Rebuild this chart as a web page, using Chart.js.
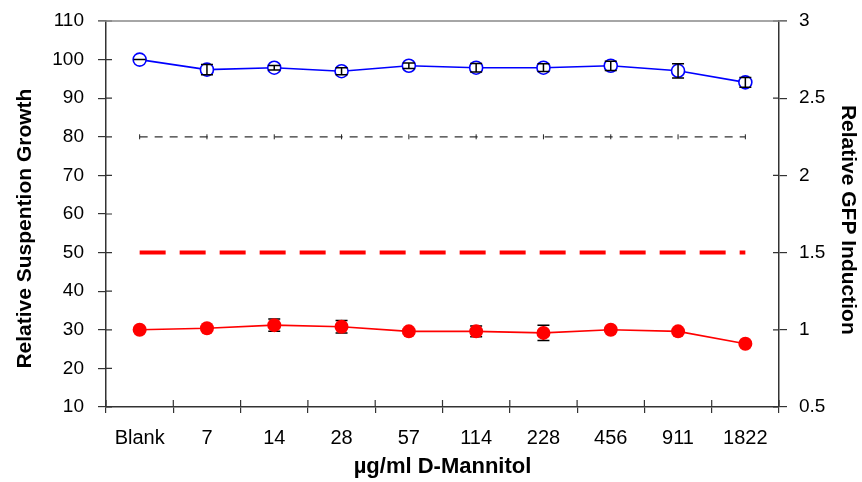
<!DOCTYPE html>
<html>
<head>
<meta charset="utf-8">
<script src="https://cdn.jsdelivr.net/npm/chart.js@4"></script>
<style>
  html, body { margin: 0; padding: 0; background: #fff; }
  #wrap { width: 862px; height: 482px; }
</style>
</head>
<body>
<div id="wrap"><canvas id="grafico" width="862" height="482"></canvas></div>
<script>
const categorias = ['Blank', '7', '14', '28', '57', '114', '228', '456', '911', '1822'];
const crescimento = [100, 97.4, 97.9, 97.0, 98.4, 97.9, 97.9, 98.4, 97.1, 94.1];
const crescimentoErro = [0, 1.3, 0.6, 0.9, 0.7, 1.1, 1.0, 1.2, 1.85, 1.25];
const gfp = [1.0, 1.01, 1.03, 1.02, 0.99, 0.99, 0.98, 1.0, 0.99, 0.91];
const gfpErro = [0, 0.01, 0.04, 0.04, 0.015, 0.035, 0.05, 0.01, 0.012, 0.01];
const limiteCrescimento = [80, 80, 80, 80, 80, 80, 80, 80, 80, 80];
const limiteGfp = [1.5, 1.5, 1.5, 1.5, 1.5, 1.5, 1.5, 1.5, 1.5, 1.5];

const eixoEsq = { min: 10, max: 110, passo: 10 };
const eixoDir = { min: 0.5, max: 3, passo: 0.5 };

const corEixo = '#333';

// error bars, drawn behind or over the markers
const desenharErros = (chart, naFrente) => {
  const ctx = chart.ctx;
  chart.data.datasets.forEach((ds, i) => {
    if (!ds.erros || !!ds.errosNaFrente !== naFrente) return;
    const meta = chart.getDatasetMeta(i);
    const escala = chart.scales[ds.yAxisID];
    ctx.save();
    ctx.strokeStyle = '#000';
    ctx.lineWidth = 1.5;
    meta.data.forEach((pt, j) => {
      const v = ds.data[j];
      const e = ds.erros[j];
      const yAlto = escala.getPixelForValue(v + e);
      const yBaixo = escala.getPixelForValue(v - e);
      ctx.beginPath();
      ctx.moveTo(pt.x, yAlto);
      ctx.lineTo(pt.x, yBaixo);
      ctx.moveTo(pt.x - 6, yAlto);
      ctx.lineTo(pt.x + 6, yAlto);
      ctx.moveTo(pt.x - 6, yBaixo);
      ctx.lineTo(pt.x + 6, yBaixo);
      ctx.stroke();
    });
    ctx.restore();
  });
};

const pluginErros = {
  id: 'erros',
  beforeDatasetsDraw: (chart) => desenharErros(chart, false),
  afterDatasetsDraw: (chart) => desenharErros(chart, true),
};

// inner half of the crossing tick marks and the grey top border
const pluginMolduras = {
  id: 'molduras',
  afterDraw: (chart) => {
    const ctx = chart.ctx;
    const area = chart.chartArea;
    const { y, y1 } = chart.scales;
    ctx.save();
    ctx.strokeStyle = corEixo;
    ctx.lineWidth = 1.2;
    ctx.beginPath();
    y.ticks.forEach((t) => {
      const py = y.getPixelForValue(t.value);
      ctx.moveTo(area.left, py);
      ctx.lineTo(area.left + 6, py);
    });
    y1.ticks.forEach((t) => {
      const py = y1.getPixelForValue(t.value);
      ctx.moveTo(area.right - 6, py);
      ctx.lineTo(area.right, py);
    });
    for (let i = 0; i <= categorias.length; i++) {
      const px = area.left + (i * (area.right - area.left)) / categorias.length;
      ctx.moveTo(px, area.bottom);
      ctx.lineTo(px, area.bottom - 7);
    }
    ctx.stroke();
    ctx.strokeStyle = '#888';
    ctx.lineWidth = 1.5;
    ctx.beginPath();
    ctx.moveTo(area.left - 8, area.top);
    ctx.lineTo(area.right + 8, area.top);
    ctx.stroke();
    ctx.restore();
  },
};

// fixed box sizes so the plot area lands where the reference has it
const ajustarVertical = (largura) => (escala) => {
  escala.width = largura;
  escala.paddingTop = 10;
  escala.paddingBottom = 10;
};

const ctx = document.getElementById('grafico').getContext('2d');

new Chart(ctx, {
  type: 'line',
  data: {
    labels: categorias,
    datasets: [
      {
        label: 'Relative Suspention Growth',
        data: crescimento,
        erros: crescimentoErro,
        errosNaFrente: true,
        yAxisID: 'y',
        borderColor: '#0000ff',
        borderWidth: 1.6,
        pointRadius: 6.5,
        pointBorderWidth: 1.6,
        pointBorderColor: '#0000ff',
        pointBackgroundColor: '#ffffff',
        tension: 0,
      },
      {
        label: 'Relative GFP Induction',
        data: gfp,
        erros: gfpErro,
        yAxisID: 'y1',
        borderColor: '#ff0000',
        borderWidth: 1.6,
        pointRadius: 7,
        pointBorderWidth: 0,
        pointBackgroundColor: '#ff0000',
        tension: 0,
      },
      {
        label: 'limite crescimento',
        data: limiteCrescimento,
        yAxisID: 'y',
        borderColor: '#333',
        borderWidth: 1.2,
        borderDash: [8, 7],
        pointStyle: 'line',
        rotation: 90,
        pointRadius: 2.5,
        pointBorderColor: '#222',
        pointBorderWidth: 1,
      },
      {
        label: 'limite gfp',
        data: limiteGfp,
        yAxisID: 'y1',
        borderColor: '#ff0000',
        borderWidth: 4,
        borderDash: [26, 14],
        pointRadius: 0,
      },
    ],
  },
  options: {
    responsive: false,
    animation: false,
    layout: { padding: { top: 21, left: 0, right: 0, bottom: 0 } },
    plugins: {
      legend: { display: false },
      tooltip: { enabled: false },
    },
    scales: {
      x: {
        offset: true,
        grid: { offset: true, drawOnChartArea: false, tickLength: 6, color: corEixo, lineWidth: 1.2 },
        border: { color: corEixo, width: 1.5 },
        ticks: { color: '#000', padding: 13, font: { family: 'Liberation Sans, Arial', size: 20 } },
        title: {
          display: true,
          text: 'µg/ml D-Mannitol',
          color: '#000',
          padding: { top: 0, bottom: 2 },
          font: { family: 'Liberation Sans, Arial', size: 22, weight: 'bold' },
        },
        afterFit: (escala) => { escala.height = 75; },
      },
      y: {
        position: 'left',
        min: eixoEsq.min,
        max: eixoEsq.max,
        grid: { drawOnChartArea: false, tickLength: 8, color: corEixo, lineWidth: 1.2 },
        border: { color: corEixo, width: 1.5 },
        ticks: {
          stepSize: eixoEsq.passo,
          color: '#000',
          padding: 14,
          font: { family: 'Liberation Sans, Arial', size: 19 },
        },
        title: {
          display: true,
          text: 'Relative Suspention Growth     ',
          color: '#000',
          padding: { top: 13, bottom: 0 },
          font: { family: 'Liberation Sans, Arial', size: 21, weight: 'bold' },
        },
        afterFit: ajustarVertical(106),
      },
      y1: {
        position: 'right',
        min: eixoDir.min,
        max: eixoDir.max,
        grid: { drawOnChartArea: false, tickLength: 8, color: corEixo, lineWidth: 1.2 },
        border: { color: corEixo, width: 1.5 },
        ticks: {
          stepSize: eixoDir.passo,
          color: '#000',
          padding: 12,
          font: { family: 'Liberation Sans, Arial', size: 19 },
          callback: (v) => String(v),
        },
        title: {
          display: true,
          text: '  Relative GFP Induction',
          color: '#000',
          padding: { top: 2, bottom: 0 },
          font: { family: 'Liberation Sans, Arial', size: 21, weight: 'bold' },
        },
        afterFit: ajustarVertical(83),
      },
    },
  },
  plugins: [pluginErros, pluginMolduras],
});
</script>
</body>
</html>
